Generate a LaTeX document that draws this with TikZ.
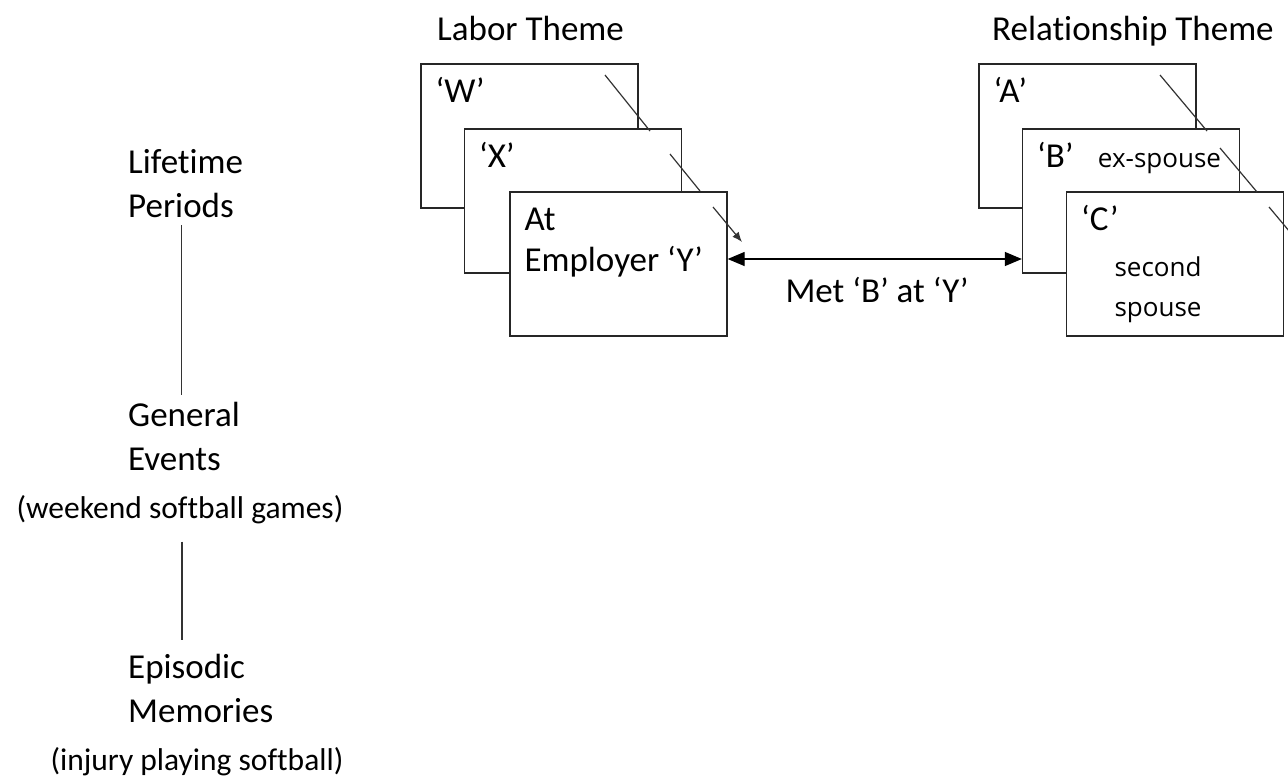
\documentclass[tikz,border=0pt]{standalone}
\usepackage{fontspec}
\setmainfont{Carlito}[Ligatures=NoCommon]
\newfontfamily\notefont{Open Sans}
\usetikzlibrary{positioning,calc,arrows.meta}
\tikzset{
  card/.style={draw=black!85,line width=1.3pt,fill=white,minimum width=217pt,minimum height=144pt,inner sep=0pt},
  cardtext/.style={anchor=base west,inner sep=0pt,font=\fontsize{35}{41}\selectfont},
  level/.style={anchor=base west,align=left,inner sep=0pt,font=\fontsize{35}{44}\selectfont},
  example/.style={anchor=base,inner sep=0pt,font=\fontsize{31.5}{38}\selectfont},
  note/.style={inner sep=0pt,font=\notefont\fontsize{26}{40}\selectfont},
  pointer/.style={draw=black!80,line width=1.2pt},
  rule/.style={draw=black!80,line width=1.3pt},
  link/.style={line width=1.3pt,{Triangle[length=17pt,width=14pt]}-{Triangle[length=17pt,width=14pt]}}
}
\newcommand{\memcard}[4]{%
  \node[card] (#1) at (#2,#3) {};
  \node[cardtext] (#1t) at ([xshift=15pt,yshift=-39pt]#1.north west) {#4};
}

\begin{document}
\begin{tikzpicture}[x=1pt,y=-1pt]
\clip (0,0) rectangle (1288,782);
% levels of autobiographical memory
\node[level] (lp) at (128,217) {Lifetime\\Periods};
\node[level] (ge) at (128,470) {General\\Events};
\node[example] (we) at (180,518) {(weekend softball games)};
\node[level] (em) at (128,722) {Episodic\\Memories};
\node[example] (ip) at (197,770) {(injury playing softball)};
\draw[rule,shorten <=8pt,shorten >=7pt] ([xshift=-4pt]lp.south) -- ([xshift=-4pt]lp.south |- ge.north);
\draw[rule,shorten <=18pt,shorten >=14pt] ([xshift=2pt]we.south) -- ([xshift=2pt]we.south |- em.north);
% labor theme
\node[cardtext] (lab) at (437,40) {Labor Theme};
\memcard{lw}{529.5}{136}{‘W’}
\memcard{lx}{573}{201}{‘X’}
\memcard{ly}{618.5}{264}{At}
\node[cardtext] (lyt2) at ([yshift=-41pt]lyt.base west) {Employer ‘Y’};
% relationship theme
\node[cardtext] (rel) at (992,40) {Relationship Theme};
\memcard{ra}{1087.5}{136}{‘A’}
\memcard{rb}{1131}{201}{‘B’}
\node[note,anchor=base west] (rbn) at ([xshift=24pt]rbt.base east) {ex-spouse};
\memcard{rc}{1175}{264}{‘C’}
\node[note,align=center] (rcn) at (1158,290) {second\\spouse};
% link between themes
\draw[link] ([yshift=5pt]ly.east) -- ([yshift=5pt]ly.east -| rb.west);
\node[cardtext,anchor=base] (met) at (877,302) {Met ‘B’ at ‘Y’};
% pointers through the stacks
\draw[pointer] (605,75) -- (650,131);
\draw[pointer] (670,154) -- (700,191);
\draw[pointer,-{Latex[length=10pt,width=8pt]}] (713,207) -- (742,242);
\draw[pointer] (1160,75) -- (1207,131);
\draw[pointer] (1220,148) -- (1257,192);
\draw[pointer] (1269,207) -- (1300,244);
\end{tikzpicture}
\end{document}
